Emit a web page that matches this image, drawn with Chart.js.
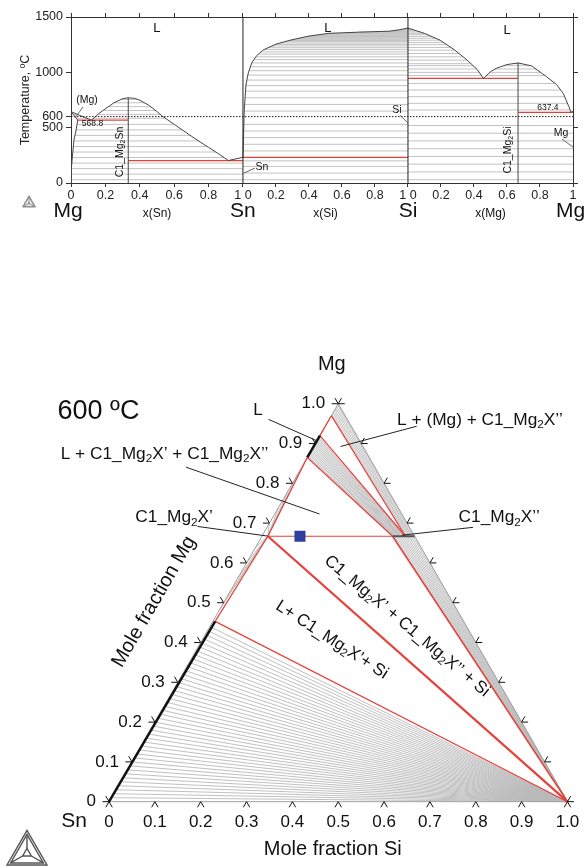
<!DOCTYPE html>
<html lang="en">
<head>
<meta charset="UTF-8">
<title>Mg-Sn-Si</title>
<script src="https://cdn.jsdelivr.net/npm/chart.js"></script>
<style>
  body { margin: 0; background: #fff; }
  #binaryBox { position: absolute; left: 0; top: 0; }
  #ternaryBox { position: absolute; left: 0; top: 230px; }
</style>
</head>
<body>
<div id="binaryBox"><canvas id="binaryChart" width="585" height="230"></canvas></div>
<div id="ternaryBox"><canvas id="ternaryChart" width="585" height="638"></canvas></div>
<script>
  // ---- binary edges: [x, T] ----
  // Mg–Sn, x = x(Sn)
  const mgSnLiqMg = [[0, 645], [0.04, 618], [0.08, 592], [0.12, 568.8]];
  const mgSnLiqLow = [[0.12, 568.8], [0.16, 625], [0.19, 660], [0.25, 725], [0.3, 762], [0.333, 770]];
  const mgSnLiqHigh = [[0.333, 770], [0.37, 765], [0.4, 748], [0.45, 705], [0.5, 645], [0.535, 600], [0.6, 530], [0.69, 434], [0.75, 372], [0.8, 322], [0.86, 262], [0.915, 203]];
  const mgSnLiqSn = [[0.915, 203], [1, 232]];
  const mgSnSolidus = [[0, 645], [0.02, 605], [0.039, 568.8]];
  const mgSnSolvus = [[0.039, 568.8], [0.03, 480], [0.017, 388], [0.008, 236], [0.003, 150], [0, 60], [0, 0]];
  const mgSnEutectics = [[0.039, 0.333, 568.8], [0.333, 1, 203]];
  const mgSnCompound = [0.333, 770];
  const mgSnTies = [30, 80, 130, 180, 230, 280, 330, 380, 430, 480, 530, 585, 620, 655, 690, 725, 755];

  // Sn–Si, x = x(Si)
  const snSiLiq = [[0, 232], [0.004, 450], [0.008, 660], [0.018, 885], [0.032, 993], [0.053, 1084], [0.08, 1145], [0.12, 1200], [0.2, 1255], [0.285, 1290], [0.4, 1328], [0.52, 1352], [0.7, 1363], [0.89, 1372], [0.95, 1385], [1, 1400]];
  const snSiEutectics = [[0, 1, 232]];
  const snSiTies = [30, 90, 150, 200, 290, 350, 410, 470, 530, 650, 710, 770, 830, 880, 930, 975, 1015, 1050, 1085, 1115, 1140, 1165, 1185, 1205, 1222, 1238, 1252, 1265, 1277, 1288, 1298, 1307, 1316, 1324, 1332, 1339, 1346, 1352, 1358, 1363, 1368, 1372, 1376, 1380, 1384, 1388, 1392, 1396];

  // Si–Mg, x = x(Mg)
  const siMgLiqSi = [[0, 1400], [0.1, 1352], [0.195, 1290], [0.28, 1205], [0.358, 1111], [0.42, 1025], [0.457, 945]];
  const siMgLiqLow = [[0.457, 945], [0.5, 1005], [0.535, 1036], [0.6, 1070], [0.667, 1085]];
  const siMgLiqHigh = [[0.667, 1085], [0.75, 1058], [0.84, 960], [0.9, 890], [0.941, 810], [0.975, 690], [0.988, 637.4]];
  const siMgLiqMg = [[0.988, 637.4], [1, 650]];
  const siMgEutectics = [[0, 0.667, 945], [0.667, 1, 637.4]];
  const siMgCompound = [0.667, 1085];
  const siMgTies = [30, 100, 170, 240, 310, 380, 450, 520, 660, 720, 780, 840, 900, 970, 1000, 1030, 1060, 1078, 1110, 1140, 1170, 1200, 1225, 1250, 1270, 1290, 1308, 1325, 1340, 1353, 1365, 1376, 1386, 1395];

  const isoT = 600;
  const yTicks = [0, 500, 600, 1000, 1500];
  const xTickFractions = [0, 0.2, 0.4, 0.6, 0.8, 1];
  const xTickText = ['0', '0.2', '0.4', '0.6', '0.8', '1'];

  // ---- 600 °C section: [xSi, xMg] ----
  const ptSn = [0, 0], ptSi = [1, 0], ptMg = [0, 1];
  const ptLiqSn = [0.005, 0.453];
  const ptX1 = [0.013, 0.667];
  const ptX2a = [0.285, 0.667];
  const ptX2b = [0.313, 0.667];
  const ptMg2Si = [0.333, 0.667];
  const ptLiqMg1 = [0, 0.865];
  const ptLiqMg2 = [0, 0.92];
  const ptMgSS = [0, 0.97];
  const ptAlloy = [0.083, 0.667];

  // liquid xMg on the Sn–Mg edge, tied to Si
  const liqSiFan = [0.01, 0.02, 0.03, 0.04, 0.05, 0.06, 0.07, 0.08, 0.09, 0.10, 0.11, 0.12, 0.13, 0.14, 0.15, 0.16, 0.17, 0.18, 0.19, 0.20, 0.21, 0.22, 0.23, 0.24, 0.25, 0.26, 0.27, 0.28, 0.29, 0.30, 0.31, 0.32, 0.33, 0.34, 0.35, 0.36, 0.37, 0.38, 0.39, 0.40, 0.41, 0.42, 0.43, 0.44];
  // liquid xMg tied to C1_Mg2X'
  const liqX1Fan = [0.48, 0.52, 0.56, 0.60, 0.64, 0.70, 0.74, 0.78, 0.82, 0.855];
  // liquid xMg -> C1_Mg2X'' xSi
  const liqX2Mg = [0.868, 0.871, 0.874, 0.877, 0.880, 0.883, 0.886, 0.889, 0.892, 0.895, 0.898, 0.901, 0.904, 0.907, 0.910, 0.913, 0.916];
  const liqX2Si = [0.287, 0.288, 0.290, 0.291, 0.293, 0.294, 0.296, 0.298, 0.299, 0.301, 0.302, 0.304, 0.305, 0.307, 0.309, 0.310, 0.312];
  // (Mg) xMg -> C1_Mg2X'' xSi
  const mgX2Mg = [0.973, 0.977, 0.981, 0.985, 0.989, 0.993, 0.997, 1.0];
  const mgX2Si = [0.315, 0.317, 0.320, 0.322, 0.325, 0.327, 0.330, 0.333];
  // C1_Mg2X'' xSi tied to Si
  const x2SiFan = [0.289, 0.293, 0.297, 0.301, 0.305, 0.309, 0.313, 0.317, 0.321, 0.325, 0.329, 0.333];

  const ternTicks = [0, 0.1, 0.2, 0.3, 0.4, 0.5, 0.6, 0.7, 0.8, 0.9, 1.0];
  const ternTickText = ['0', '0.1', '0.2', '0.3', '0.4', '0.5', '0.6', '0.7', '0.8', '0.9', '1.0'];

  const FONT = '"Liberation Sans", Arial, Helvetica, sans-serif';
  const GREY = '#c2c2c2';
  const TGREY = '#b9b9b9';
  const RED = '#e5403a';
  const CURVE = '#454545';

  // text with {sub} parts
  function drawRich(ctx, str, x, y, size, align, angle) {
    const parts = str.split(/\{(\w+)\}/);
    const sub = size * 0.68;
    ctx.save();
    ctx.translate(x, y);
    if (angle) ctx.rotate(angle * Math.PI / 180);
    let w = 0;
    parts.forEach((s, i) => { ctx.font = (i % 2 ? sub : size) + 'px ' + FONT; w += ctx.measureText(s).width; });
    let cx = align === 'left' ? 0 : align === 'right' ? -w : -w / 2;
    ctx.textBaseline = 'middle';
    ctx.textAlign = 'left';
    ctx.fillStyle = '#111';
    parts.forEach((s, i) => {
      ctx.font = (i % 2 ? sub : size) + 'px ' + FONT;
      ctx.fillText(s, cx, i % 2 ? size * 0.28 : 0);
      cx += ctx.measureText(s).width;
    });
    ctx.restore();
  }

  function segment(ctx, a, b, color, width) {
    ctx.save();
    ctx.strokeStyle = color;
    ctx.lineWidth = width;
    ctx.beginPath();
    ctx.moveTo(a[0], a[1]);
    ctx.lineTo(b[0], b[1]);
    ctx.stroke();
    ctx.restore();
  }

  function drawLogo(ctx, cx, base, w, color) {
    const h = w * 0.866;
    const tri = s => {
      const c = [cx, base - h / 3];
      return [[cx - w / 2, base], [cx + w / 2, base], [cx, base - h]].map(p => [c[0] + (p[0] - c[0]) * s, c[1] + (p[1] - c[1]) * s]);
    };
    ctx.save();
    ctx.strokeStyle = color;
    ctx.lineWidth = Math.max(1, w / 28);
    [1, 0.82].forEach(s => {
      const t = tri(s);
      ctx.beginPath();
      ctx.moveTo(t[0][0], t[0][1]);
      ctx.lineTo(t[1][0], t[1][1]);
      ctx.lineTo(t[2][0], t[2][1]);
      ctx.closePath();
      ctx.stroke();
    });
    const inner = tri(0.82), core = tri(0.22);
    ctx.beginPath();
    ctx.moveTo(core[0][0], core[0][1]);
    ctx.lineTo(core[1][0], core[1][1]);
    ctx.lineTo(core[2][0], core[2][1]);
    ctx.closePath();
    ctx.stroke();
    for (let i = 0; i < 3; i++) {
      ctx.beginPath();
      ctx.moveTo(inner[i][0], inner[i][1]);
      ctx.lineTo(core[i][0], core[i][1]);
      ctx.stroke();
    }
    ctx.restore();
  }

  // ================= binary strip =================
  const PANEL_START = [0, 1.042, 2.042];
  const PANEL_WIDTH = [1.042, 1, 1];
  const X_MAX = 3.042;
  const gx = (p, x) => PANEL_START[p] + x * PANEL_WIDTH[p];

  function xOnCurve(curve, t) {
    for (let i = 0; i < curve.length - 1; i++) {
      const [x0, t0] = curve[i], [x1, t1] = curve[i + 1];
      if (t0 !== t1 && (t - t0) * (t - t1) <= 0) return x0 + (x1 - x0) * (t - t0) / (t1 - t0);
    }
    const a = curve[0], b = curve[curve.length - 1];
    return Math.abs(t - a[1]) < Math.abs(t - b[1]) ? a[0] : b[0];
  }
  const edgeAt = (b, t) => typeof b === 'number' ? b : xOnCurve(b, t);

  const panels = [
    {
      curves: [mgSnLiqMg, mgSnLiqLow, mgSnLiqHigh, mgSnLiqSn, mgSnSolidus, mgSnSolvus],
      eutectics: mgSnEutectics, compound: mgSnCompound, ties: mgSnTies,
      regions: [
        { lo: 568.8, hi: 645, left: mgSnSolidus, right: mgSnLiqMg },
        { lo: 568.8, hi: 770, left: mgSnLiqLow, right: 0.333 },
        { lo: 203, hi: 770, left: 0.333, right: mgSnLiqHigh },
        { lo: 0, hi: 568.8, left: mgSnSolvus, right: 0.333 },
        { lo: 0, hi: 203, left: 0.333, right: 1 }
      ]
    },
    {
      curves: [snSiLiq], eutectics: snSiEutectics, compound: null, ties: snSiTies,
      regions: [
        { lo: 232, hi: 1400, left: snSiLiq, right: 1 },
        { lo: 0, hi: 232, left: 0, right: 1 }
      ]
    },
    {
      curves: [siMgLiqSi, siMgLiqLow, siMgLiqHigh, siMgLiqMg],
      eutectics: siMgEutectics, compound: siMgCompound, ties: siMgTies,
      regions: [
        { lo: 945, hi: 1400, left: 0, right: siMgLiqSi },
        { lo: 945, hi: 1085, left: siMgLiqLow, right: 0.667 },
        { lo: 637.4, hi: 1085, left: 0.667, right: siMgLiqHigh },
        { lo: 0, hi: 945, left: 0, right: 0.667 },
        { lo: 0, hi: 637.4, left: 0.667, right: 1 }
      ]
    }
  ];

  const binarySets = [];
  function addBinary(pts, color, width, order, dash) {
    binarySets.push({
      data: pts.map(([x, y]) => ({ x, y })),
      showLine: true, borderColor: color, borderWidth: width, borderDash: dash || [],
      pointRadius: 0, fill: false, order
    });
  }

  panels.forEach((pn, p) => {
    pn.regions.forEach(r => {
      pn.ties.forEach(t => {
        if (t > r.lo && t < r.hi) addBinary([[gx(p, edgeAt(r.left, t)), t], [gx(p, edgeAt(r.right, t)), t]], GREY, 1, 4);
      });
    });
    pn.eutectics.forEach(([a, b, t]) => addBinary([[gx(p, a), t], [gx(p, b), t]], RED, 1.2, 2));
    pn.curves.forEach(c => addBinary(c.map(([x, t]) => [gx(p, x), t]), CURVE, 1, 1));
    if (pn.compound) addBinary([[gx(p, pn.compound[0]), 0], [gx(p, pn.compound[0]), pn.compound[1]]], CURVE, 1, 1);
  });
  [gx(0, 1), gx(1, 1)].forEach(x => addBinary([[x, 0], [x, 1500]], '#222', 1, 0));
  addBinary([[0, isoT], [X_MAX, isoT]], '#222', 1, 0, [1.5, 1.5]);

  const xTickValues = [], xTickLabels = [];
  for (let p = 0; p < 3; p++) {
    xTickFractions.forEach((f, i) => {
      if (p > 0 && i === 0) return;
      xTickValues.push(gx(p, f));
      xTickLabels.push(i === xTickFractions.length - 1 && p < 2 ? '1 0' : xTickText[i]);
    });
  }

  const binaryNotes = [
    { p: 0, x: 0.5, t: 1400, text: 'L', size: 13 },
    { p: 1, x: 0.515, t: 1400, text: 'L', size: 13 },
    { p: 2, x: 0.6, t: 1380, text: 'L', size: 13 },
    { p: 0, x: 0.093, t: 750, text: '(Mg)', size: 10.5 },
    { p: 0, x: 0.125, t: 533, text: '568.8', size: 8.5 },
    { p: 0, x: 0.285, t: 280, text: 'C1_Mg{2}Sn', size: 10.5, angle: -90 },
    { p: 1, x: 0.115, t: 145, text: 'Sn', size: 10.5 },
    { p: 1, x: 0.933, t: 660, text: 'Si', size: 10.5 },
    { p: 2, x: 0.848, t: 677, text: '637.4', size: 8.5 },
    { p: 2, x: 0.927, t: 452, text: 'Mg', size: 10.5 },
    { p: 2, x: 0.606, t: 298, text: 'C1_Mg{2}Si', size: 10.5, angle: -90 }
  ];
  const binaryLeaders = [
    [0, 0.07, 687, 0.023, 587],
    [1, 0.006, 90, 0.073, 135],
    [1, 0.95, 614, 1.0, 542],
    [2, 0.933, 397, 1.0, 325]
  ];

  const binaryDecor = {
    id: 'binaryDecor',
    afterDraw(chart) {
      const ctx = chart.ctx, sx = chart.scales.x, sy = chart.scales.y;
      const P = (p, x, t) => [sx.getPixelForValue(gx(p, x)), sy.getPixelForValue(t)];
      binaryLeaders.forEach(([p, x0, t0, x1, t1]) => segment(ctx, P(p, x0, t0), P(p, x1, t1), '#444', 0.8));
      binaryNotes.forEach(n => {
        const [x, y] = P(n.p, n.x, n.t);
        drawRich(ctx, n.text, x, y, n.size, 'center', n.angle);
      });
      const base = chart.chartArea.bottom;
      [['Mg', 0, 0], ['Sn', 0, 1], ['Si', 1, 1], ['Mg', 2, 0.985]].forEach(([s, p, f]) => {
        drawRich(ctx, s, sx.getPixelForValue(gx(p, f)) - (s === 'Mg' && p === 0 ? 3 : 0), base + 28, 21, 'center');
      });
      ['x(Sn)', 'x(Si)', 'x(Mg)'].forEach((s, p) => drawRich(ctx, s, sx.getPixelForValue(gx(p, 0.5)), base + 31, 12, 'center'));
      drawLogo(ctx, 29, 207, 13, '#888');
    }
  };

  new Chart(document.getElementById('binaryChart'), {
    type: 'scatter',
    data: { datasets: binarySets },
    plugins: [binaryDecor],
    options: {
      responsive: false, animation: false, events: [],
      layout: { padding: 0 },
      plugins: { legend: { display: false }, tooltip: { enabled: false } },
      scales: {
        x: {
          type: 'linear', position: 'bottom', min: 0, max: X_MAX,
          afterBuildTicks: s => { s.ticks = xTickValues.map(v => ({ value: v })); },
          afterFit: s => { s.height = 47; },
          ticks: { autoSkip: false, maxRotation: 0, padding: 1, color: '#222', font: { family: FONT, size: 12.5 }, callback: (v, i) => xTickLabels[i] },
          grid: { drawOnChartArea: false, drawTicks: true, tickLength: 4, color: '#333' },
          border: { display: true, color: '#333', width: 1 }
        },
        x2: {
          type: 'linear', position: 'top', min: 0, max: X_MAX,
          afterBuildTicks: s => { s.ticks = xTickValues.map(v => ({ value: v })); },
          afterFit: s => { s.height = 17; },
          ticks: { display: false },
          grid: { drawOnChartArea: false, drawTicks: true, tickLength: 4, color: '#333' },
          border: { display: true, color: '#333', width: 1 }
        },
        y: {
          type: 'linear', position: 'left', min: 0, max: 1500,
          afterBuildTicks: s => { s.ticks = yTicks.map(v => ({ value: v })); },
          afterFit: s => { s.width = 71; },
          ticks: { autoSkip: false, padding: 3, color: '#222', font: { family: FONT, size: 12.5 }, callback: v => String(v) },
          title: { display: true, text: 'Temperature, ºC', color: '#222', font: { family: FONT, size: 12.5 }, padding: { top: 18, bottom: 0 } },
          grid: { drawOnChartArea: false, drawTicks: true, tickLength: 5, color: '#333' },
          border: { display: true, color: '#333', width: 1 }
        },
        y2: {
          type: 'linear', position: 'right', min: 0, max: 1500,
          afterBuildTicks: s => { s.ticks = [0, 500, 1000, 1500].map(v => ({ value: v })); },
          afterFit: s => { s.width = 12; },
          ticks: { display: false },
          grid: { drawOnChartArea: false, drawTicks: true, tickLength: 5, color: '#333' },
          border: { display: true, color: '#333', width: 1 }
        }
      }
    }
  });

  // ================= 600 °C isothermal section =================
  const S3 = Math.sqrt(3) / 2;
  const cart = ([si, mg]) => ({ x: si + mg / 2, y: mg * S3 });

  const ternSets = [];
  function addTern(pts, color, width, order) {
    ternSets.push({
      data: pts.map(cart), showLine: true, borderColor: color, borderWidth: width,
      pointRadius: 0, fill: false, order
    });
  }

  liqSiFan.forEach(m => addTern([[0, m], ptSi], TGREY, 0.9, 5));
  liqX1Fan.forEach(m => addTern([[0, m], ptX1], TGREY, 0.9, 5));
  liqX2Mg.forEach((m, i) => addTern([[0, m], [liqX2Si[i], 0.667]], TGREY, 0.9, 5));
  mgX2Mg.forEach((m, i) => addTern([[0, m], [mgX2Si[i], 0.667]], TGREY, 0.9, 5));
  x2SiFan.forEach(s => addTern([[s, 0.667], ptSi], TGREY, 0.9, 5));
  addTern([ptSn, ptSi, ptMg, ptSn], '#a0a0a0', 1, 4);

  addTern([ptLiqSn, ptSi], RED, 1.2, 2);
  addTern([ptX1, ptSi], RED, 2.2, 2);
  addTern([ptX2a, ptSi], RED, 1.6, 2);
  addTern([ptLiqSn, ptX1], RED, 1.2, 2);
  addTern([ptX1, ptLiqMg1], RED, 1.2, 2);
  addTern([ptX1, ptX2a], RED, 1.2, 2);
  addTern([ptLiqMg1, ptX2a], RED, 1.2, 2);
  addTern([ptLiqMg2, ptX2b], RED, 1.2, 2);
  addTern([ptMgSS, ptX2b], RED, 1.2, 2);
  addTern([ptLiqMg2, ptMgSS], RED, 1.2, 2);

  addTern([ptSn, ptLiqSn], '#111', 2.5, 1);
  addTern([ptLiqMg1, ptLiqMg2], '#111', 2.5, 1);
  addTern([ptX2a, ptMg2Si], '#555', 2, 1);

  ternSets.push({
    data: [cart(ptAlloy)], showLine: false, pointStyle: 'rect', pointRadius: 7.8,
    backgroundColor: '#2f3f9e', borderColor: '#2f3f9e', borderWidth: 0, order: 0
  });

  // label positions in the section's own x/y units
  const ternNotes = [
    { x: -0.023, y: 0.849, text: '600 ºC', size: 27 },
    { x: 0.486, y: 0.951, text: 'Mg', size: 20 },
    { x: 0.325, y: 0.851, text: 'L', size: 17 },
    { x: 0.809, y: 0.830, text: 'L + (Mg) + C1_Mg{2}X’’', size: 17.3 },
    { x: 0.121, y: 0.756, text: 'L + C1_Mg{2}X’ + C1_Mg{2}X’’', size: 17.3 },
    { x: 0.142, y: 0.618, text: 'C1_Mg{2}X’', size: 17.3 },
    { x: 0.851, y: 0.618, text: 'C1_Mg{2}X’’', size: 17.3 },
    { x: 0.650, y: 0.382, text: 'C1_Mg{2}X’ + C1_Mg{2}X’’ + Si', size: 17, angle: 40 },
    { x: 0.486, y: 0.352, text: 'L+ C1_Mg{2}X’+ Si', size: 17, angle: 33 },
    { x: 0.488, y: -0.104, text: 'Mole fraction Si', size: 20 },
    { x: 0.098, y: 0.435, text: 'Mole fraction Mg', size: 20, angle: -60 },
    { x: -0.076, y: -0.042, text: 'Sn', size: 21 }
  ];
  const ternLeaders = [
    [0.348, 0.832, 0.452, 0.786],
    [0.671, 0.817, 0.505, 0.773],
    [0.168, 0.728, 0.459, 0.626],
    [0.193, 0.599, 0.346, 0.578],
    [0.794, 0.597, 0.639, 0.580]
  ];

  const ternDecor = {
    id: 'ternDecor',
    afterDraw(chart) {
      const ctx = chart.ctx, sx = chart.scales.x, sy = chart.scales.y;
      const PX = (x, y) => [sx.getPixelForValue(x), sy.getPixelForValue(y)];
      const PC = c => { const q = cart(c); return PX(q.x, q.y); };
      const L = 6.5, dx = L * 0.5, dy = L * S3;

      ternTicks.forEach((f, i) => {
        // Sn–Mg edge
        let [x, y] = PC([0, f]);
        segment(ctx, [x - L, y], [x, y], '#111', 1);
        segment(ctx, [x - dx, y - dy], [x, y], '#111', 1);
        drawRich(ctx, ternTickText[i], x - 13, y, 17, 'right');
        // Sn–Si edge
        [x, y] = PC([f, 0]);
        segment(ctx, [x - dx, y + dy], [x, y], '#111', 1);
        segment(ctx, [x + dx, y + dy], [x, y], '#111', 1);
        drawRich(ctx, ternTickText[i], x, y + 21, 17, 'center');
        // Si–Mg edge
        [x, y] = PC([1 - f, f]);
        segment(ctx, [x + L, y], [x, y], '#111', 1);
        segment(ctx, [x + dx, y - dy], [x, y], '#111', 1);
      });

      ternLeaders.forEach(([x0, y0, x1, y1]) => segment(ctx, PX(x0, y0), PX(x1, y1), '#222', 1));
      ternNotes.forEach(n => {
        const [x, y] = PX(n.x, n.y);
        drawRich(ctx, n.text, x, y, n.size, 'center', n.angle);
      });
      drawLogo(ctx, 27, 635, 40, '#555');
    }
  };

  new Chart(document.getElementById('ternaryChart'), {
    type: 'scatter',
    data: { datasets: ternSets },
    plugins: [ternDecor],
    options: {
      responsive: false, animation: false, events: [],
      layout: { padding: 0 },
      plugins: { legend: { display: false }, tooltip: { enabled: false } },
      scales: {
        x: { type: 'linear', display: false, min: -104 / 471, max: 481 / 471 },
        y: { type: 'linear', display: false, min: -60 / 471, max: 578 / 471 }
      }
    }
  });
</script>
</body>
</html>
